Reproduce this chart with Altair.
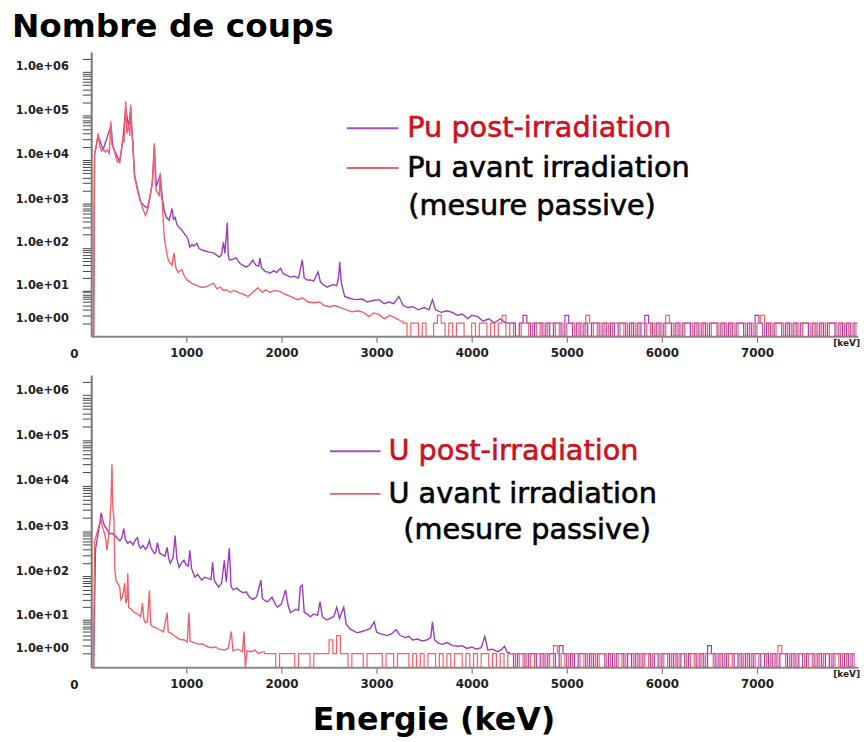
import altair as alt
import pandas as pd

# ---------------- Pu panel (top) ----------------
pu_avant_E = [15, 25, 35, 55, 73, 90, 110, 125, 150, 170,
              190, 207, 218, 228, 250, 275, 300, 320, 332, 345,
              363, 375, 394, 405, 415, 425, 436, 456, 470, 487,
              510, 539, 570, 590, 612, 630, 643, 664, 675, 684,
              700, 715, 726, 737, 747, 758, 768, 788, 810, 830,
              850, 870, 890, 913, 935, 954, 980, 1006, 1040, 1080,
              1120, 1150, 1183, 1230, 1286, 1320, 1360, 1390, 1420, 1460,
              1500, 1556, 1600, 1650, 1700, 1753, 1800, 1835, 1880, 1930,
              1990, 2040, 2100, 2167, 2220, 2280, 2343, 2400, 2450, 2510,
              2560, 2620, 2686, 2740, 2800, 2862, 2920, 2970, 3028, 3080,
              3140, 3200, 3260]
pu_avant_c = [0, 0, 14000, 22000, 40000, 20000, 16000, 18000, 15000, 17000,
              14000, 75000, 22000, 21000, 14000, 9000, 9500, 18000, 31000, 25000,
              210000, 40000, 64000, 35000, 180000, 45000, 27000, 4000, 3000, 2000,
              1300, 830, 550, 700, 1200, 2000, 3400, 24000, 3000, 2000,
              1800, 1500, 5100, 1400, 1200, 400, 178, 90, 53, 45,
              40, 77, 35, 27, 30, 31, 22, 18, 16, 14,
              13, 12, 12, 13, 15, 11, 12, 10, 10.4, 9,
              10, 8.7, 8, 7, 9, 11.6, 9, 10.4, 9, 10,
              9.3, 8, 7, 5.8, 6.5, 5, 4.8, 5, 4, 3.7,
              4, 3.5, 3, 2.6, 2.8, 2.5, 1.8, 2.4, 2.1, 1.5,
              2, 1.6, 1.2]
pu_avant_tail_start = 3300
pu_avant_tail = [1, 0, 1, 1, 0, 1, 0, 0, 1, 2, 1, 0, 1, 0, 1, 1, 0, 0, 1, 0,
                 1, 1, 0, 1, 0, 1, 2, 0, 1, 0, 0, 1, 1, 0, 1, 0, 1, 0, 1, 1,
                 0, 1, 0, 1, 1, 0, 1, 0, 2, 1, 0, 1, 0, 1, 0, 1, 1, 0, 1, 0,
                 1, 0, 1, 1, 0, 1, 0, 1, 0, 2, 1, 0, 1, 0, 1, 1, 0, 1, 0, 1,
                 0, 1, 1, 0, 1, 0, 1, 0, 1, 1, 0, 1, 0, 1, 2, 0, 1, 0, 1, 1,
                 0, 1, 0, 1, 0, 1, 1, 0, 1, 0, 1, 0, 1, 1, 0, 1, 0, 1, 0, 1]

pu_post_E = [15, 25, 35, 73, 125, 207, 228, 300, 332, 363,
             394, 415, 436, 456, 487, 520, 560, 590, 612, 643,
             664, 684, 726, 747, 768, 790, 820, 850, 865, 882,
             900, 923, 950, 975, 1006, 1020, 1037, 1060, 1080, 1110,
             1130, 1161, 1200, 1240, 1286, 1310, 1348, 1370, 1390, 1405,
             1431, 1440, 1452, 1490, 1525, 1560, 1590, 1628, 1660, 1700,
             1730, 1760, 1773, 1790, 1835, 1856, 1880, 1920, 1950, 1990,
             2020, 2060, 2095, 2140, 2180, 2219, 2240, 2270, 2302, 2340,
             2385, 2410, 2440, 2478, 2510, 2550, 2580, 2600, 2613, 2630,
             2665, 2700, 2750, 2790, 2850, 2900, 2960, 3028, 3080, 3130,
             3180, 3235, 3280, 3330, 3380, 3440, 3500, 3550, 3588, 3620,
             3680, 3740, 3795, 3850, 3900, 3960, 4000, 4065, 4120, 4180,
             4240, 4300, 4360]
pu_post_c = [0, 0, 13000, 35000, 17000, 60000, 20000, 9000, 28000, 150000,
             55000, 150000, 25000, 4500, 2200, 1100, 900, 800, 1300, 3000,
             20000, 2500, 4500, 1400, 700, 500, 425, 790, 450, 500,
             350, 295, 260, 218, 177, 150, 104, 120, 110, 128,
             100, 90, 85, 80, 77, 70, 62, 70, 135, 75,
             380, 70, 53, 55, 59, 45, 40, 36, 40, 53,
             40, 38, 59, 35, 28, 28, 26, 30, 27, 34,
             25, 23, 21, 22, 20, 53, 20, 18, 18, 17,
             28, 16, 14, 12, 13, 14, 13, 20, 48, 15,
             7, 6.5, 6, 5.8, 6, 5, 5.5, 5.8, 4.5, 5,
             4.5, 7, 4, 3.5, 3.7, 3, 3.5, 3, 5.8, 3,
             2.5, 2.8, 2.5, 2, 2.2, 1.5, 2, 1.8, 1.2, 1.5,
             1, 1.5, 1]
pu_post_tail_start = 4400
pu_post_tail = [1, 1, 0, 1, 2, 1, 0, 1, 1, 0, 1, 0, 1, 1, 0, 2, 1, 0, 1, 0,
                1, 0, 1, 1, 0, 1, 0, 1, 0, 1, 1, 0, 1, 0, 1, 0, 2, 1, 0, 1,
                0, 1, 1, 0, 1, 0, 1, 1, 0, 1, 0, 1, 0, 1, 1, 0, 1, 0, 1, 0,
                1, 1, 0, 1, 0, 2, 1, 0, 1, 0, 1, 1, 0, 1, 0, 1, 0, 1, 1, 0,
                1, 0, 1, 0, 1, 1, 0, 1, 0, 1, 0, 1]

# ---------------- U panel (bottom) ----------------
u_avant_E = [15, 25, 35, 60, 80, 104, 120, 140, 155, 166,
             180, 195, 207, 218, 228, 238, 249, 260, 280, 300,
             311, 330, 352, 363, 375, 384, 394, 420, 456, 490,
             520, 539, 555, 570, 590, 612, 625, 643, 680, 715,
             760, 798, 810, 830, 870, 900, 934, 980, 1010, 1027,
             1040, 1079, 1130, 1170, 1213, 1260, 1300, 1348, 1400, 1440,
             1473, 1490, 1540, 1590, 1607, 1620, 1640, 1680, 1720, 1760,
             1800]
u_avant_c = [0, 0, 600, 900, 1300, 1700, 1200, 900, 620, 380,
             700, 1500, 4000, 30000, 3000, 2000, 137, 82, 70, 58,
             30, 35, 71, 25, 30, 118, 20, 18, 15, 14,
             12, 25, 10, 8.6, 9, 49, 8, 6.9, 6.5, 5.8,
             5, 15, 5, 4.8, 4, 3.5, 3.1, 3, 2.6, 15,
             2.8, 2.5, 2.2, 2.3, 1.9, 1.7, 1.8, 1.5, 1.4, 1.6,
             5.1, 1.3, 1.5, 1.2, 5.1, 0, 1.3, 1.2, 1.4, 1.0,
             1.2]
u_avant_tail_start = 1840
u_avant_tail = [1, 1, 1, 0, 1, 1, 1, 1, 0, 1, 1, 1, 0, 1, 1, 1, 1, 3, 1, 4,
                1, 1, 0, 1, 1, 1, 0, 1, 1, 1, 1, 0, 1, 1, 0, 1, 1, 1, 0, 1,
                0, 1, 0, 1, 1, 0, 1, 0, 1, 0, 1, 1, 0, 1, 0, 1, 0, 1, 1, 0,
                1, 0, 1, 0, 1, 1, 0, 1, 0, 1, 0, 1, 1, 0, 1, 0, 2, 1, 0, 1,
                0, 1, 1, 0, 1, 0, 1, 0, 1, 1, 0, 1, 0, 1, 0, 1, 1, 0, 1, 0,
                1, 0, 1, 1, 0, 1, 0, 1, 0, 1, 1, 0, 1, 0, 1, 0, 1, 1, 0, 1,
                0, 1, 0, 1, 1, 0, 1, 0, 1, 0, 1, 1, 0, 1, 0, 2, 1, 0, 1, 0,
                1, 1, 0, 1, 0, 1, 0, 1, 1, 0, 1, 0, 1, 0, 1, 0]

u_post_E = [15, 25, 45, 73, 90, 104, 120, 140, 155, 175,
            197, 220, 249, 275, 300, 320, 342, 360, 384, 410,
            440, 465, 487, 500, 518, 545, 570, 590, 612, 630,
            664, 680, 695, 720, 750, 775, 798, 815, 830, 860,
            882, 900, 923, 950, 975, 1000, 1020, 1037, 1055, 1089,
            1120, 1161, 1190, 1230, 1260, 1276, 1295, 1338, 1370, 1400,
            1420, 1452, 1470, 1493, 1530, 1560, 1597, 1630, 1660, 1700,
            1740, 1784, 1800, 1830, 1856, 1900, 1930, 1960, 2000, 2043,
            2070, 2095, 2115, 2150, 2180, 2198, 2219, 2240, 2270, 2302,
            2340, 2380, 2406, 2430, 2478, 2510, 2550, 2582, 2610, 2655,
            2680, 2720, 2750, 2790, 2830, 2880, 2930, 2976, 3000, 3030,
            3070, 3110, 3160, 3204, 3250, 3300, 3339, 3380, 3430, 3480,
            3530, 3570, 3588, 3610, 3650, 3692, 3740, 3800, 3858, 3900,
            3950, 4000, 4050, 4100, 4138, 4170, 4220, 4270, 4310, 4345,
            4376]
u_post_c = [0, 0, 400, 880, 1500, 2550, 1800, 1300, 1200, 1000,
            880, 900, 800, 700, 620, 700, 1140, 650, 540, 600,
            500, 650, 720, 500, 420, 480, 400, 450, 620, 420,
            323, 350, 560, 330, 300, 280, 440, 250, 195, 260,
            800, 250, 158, 200, 228, 180, 170, 380, 150, 97,
            110, 82, 95, 90, 85, 205, 80, 58, 70, 228,
            75, 420, 60, 50, 55, 48, 43, 45, 35, 30,
            35, 82, 32, 28, 27, 34, 25, 20, 24, 50,
            22, 15, 16, 18, 17, 58, 64, 15, 14, 12,
            14, 13, 27, 12, 10, 11, 12, 20, 11, 20,
            8, 6, 5.5, 4.8, 5, 5.5, 6, 9, 5, 4.5,
            4.3, 4, 4.5, 5.8, 4, 3.5, 3.8, 3, 3.2, 2.8,
            3, 3.5, 9, 3, 2.4, 2.2, 2.5, 2, 1.9, 2,
            1.6, 1.8, 1.5, 1.7, 3.8, 1.4, 1.5, 1.2, 1.4, 1.9,
            1.1]
u_post_tail_start = 4420
u_post_tail = [1, 0, 1, 1, 0, 1, 1, 0, 1, 0, 1, 1, 0, 2, 1, 0, 1, 0, 1, 1,
               0, 1, 0, 1, 1, 0, 1, 0, 1, 1, 0, 1, 0, 1, 0, 1, 1, 0, 1, 0,
               1, 1, 0, 1, 0, 1, 0, 1, 1, 0, 1, 0, 2, 1, 0, 1, 0, 1, 1, 0,
               1, 0, 1, 0, 1, 1, 0, 1, 0, 1, 0, 1, 1, 0, 1, 0, 1, 0, 1, 1,
               0, 1, 0, 1, 0, 1, 1, 0, 1, 0, 1]

x_ticks = [1000, 2000, 3000, 4000, 5000, 6000, 7000]
y_label_values = [1, 10, 100, 1000, 10000, 100000, 1000000]

TAIL_STEP = 40
X_MAX = 8062
Y_MAX = 2800000
W = 774
PURPLE = "#9a3cbc"
RED = "#f2606c"
LEG_RED = "#d0101e"
FONT = "DejaVu Sans"


def main_df(E, C):
    assert len(E) == len(C)
    return pd.DataFrame({"E": list(E), "c": list(C)})


def tail_df(E, C, tail_start, tail):
    e = [E[-1]] + [tail_start + i * TAIL_STEP for i in range(len(tail))]
    c = [C[-1]] + list(tail)
    return pd.DataFrame({"E": e, "c": c})


minor_vals = [m * 10 ** n for n in range(6) for m in range(1, 10)] + [1000000, 2000000]
label_expr = ("indexof(" + str(y_label_values) + ", datum.value) >= 0 ? "
              "'1.0e+0' + format(log(datum.value)/LN10, '.0f') : ''")

x_enc = alt.X("E:Q", scale=alt.Scale(domain=[0, X_MAX], nice=False, zero=False),
              axis=alt.Axis(values=x_ticks, format="d", title=None, grid=False,
                            tickSize=6, labelPadding=5, labelFont=FONT,
                            labelFontWeight="bold", labelFontSize=12,
                            labelColor="#222", tickColor="#666",
                            domainColor="#888", domainWidth=2, labelFlush=False))
y_enc = alt.Y("c:Q", scale=alt.Scale(type="symlog", constant=1, domain=[0, Y_MAX], nice=False),
              axis=alt.Axis(values=minor_vals, labelExpr=label_expr, title=None, grid=False,
                            tickSize=9, labelPadding=14, labelFont=FONT,
                            labelFontWeight="bold", labelFontSize=11.5, labelColor="#222",
                            tickColor="#444", domainColor="#777", domainWidth=2,
                            labelOverlap=False, labelBound=False, labelFlush=False,
                            labelOffset=-5))

one = pd.DataFrame({"k": [0]})


def txt(x, y, s, size, color="#000", weight="normal", align="left", baseline="middle",
        thicken=0.0):
    props = dict(font=FONT, fontSize=size, fontWeight=weight, color=color,
                 align=align, baseline=baseline)
    if thicken > 0:
        props.update(stroke=color, strokeWidth=thicken)
    return alt.Chart(one).mark_text(**props).encode(
        x=alt.value(x), y=alt.value(y), text=alt.value(s))


def rule(x1, x2, y, color):
    return alt.Chart(one).mark_rule(color=color, strokeWidth=2).encode(
        x=alt.value(x1), x2=alt.value(x2), y=alt.value(y))


def panel(post, avant, h, extras):
    layers = []
    for (E, C, ts, tail), col in ((post, PURPLE), (avant, RED)):
        layers.append(alt.Chart(main_df(E, C)).mark_line(
            color=col, strokeWidth=1.4, clip=True).encode(x=x_enc, y=y_enc))
        layers.append(alt.Chart(tail_df(E, C, ts, tail)).mark_line(
            color=col, strokeWidth=1.2, clip=True, interpolate="step").encode(x=x_enc, y=y_enc))
    common = [txt(-17, h + 18, "0", 12, "#222", "bold", "center"),
              txt(W + 2, h + 7, "[keV]", 9, "#222", "bold", "right")]
    return alt.layer(*layers, *common, *extras).properties(width=W, height=h)


H1, H2 = 287, 295
top = panel((pu_post_E, pu_post_c, pu_post_tail_start, pu_post_tail),
            (pu_avant_E, pu_avant_c, pu_avant_tail_start, pu_avant_tail),
            H1,
            [txt(-80, -15, "Nombre de coups", 33, "#000", "bold", "left", "alphabetic"),
             rule(258, 310, 77, "#a050c0"),
             txt(319, 77, "Pu post-irradiation", 29, LEG_RED, thicken=0.6),
             rule(258, 310, 117, "#e8606a"),
             txt(319, 117, "Pu avant irradiation", 29, thicken=0.6),
             txt(320, 156, "(mesure passive)", 29, thicken=0.6)])

bottom = panel((u_post_E, u_post_c, u_post_tail_start, u_post_tail),
               (u_avant_E, u_avant_c, u_avant_tail_start, u_avant_tail),
               H2,
               [rule(241, 292, 77, "#a050c0"),
                txt(300, 77, "U post-irradiation", 29, LEG_RED, thicken=0.6),
                rule(241, 292, 120, "#e8606a"),
                txt(300, 120, "U avant irradiation", 29, thicken=0.6),
                txt(315, 157, "(mesure passive)", 29, thicken=0.6),
                txt(346, H2 + 53, "Energie (keV)", 32, "#000", "bold", "center")])

chart = alt.vconcat(top, bottom, spacing=10).configure(
    padding={"left": 4, "top": 0, "right": 0, "bottom": 0}
).configure_view(stroke=None)

chart.save("out.html", embed_options={"renderer": "svg", "actions": False})
